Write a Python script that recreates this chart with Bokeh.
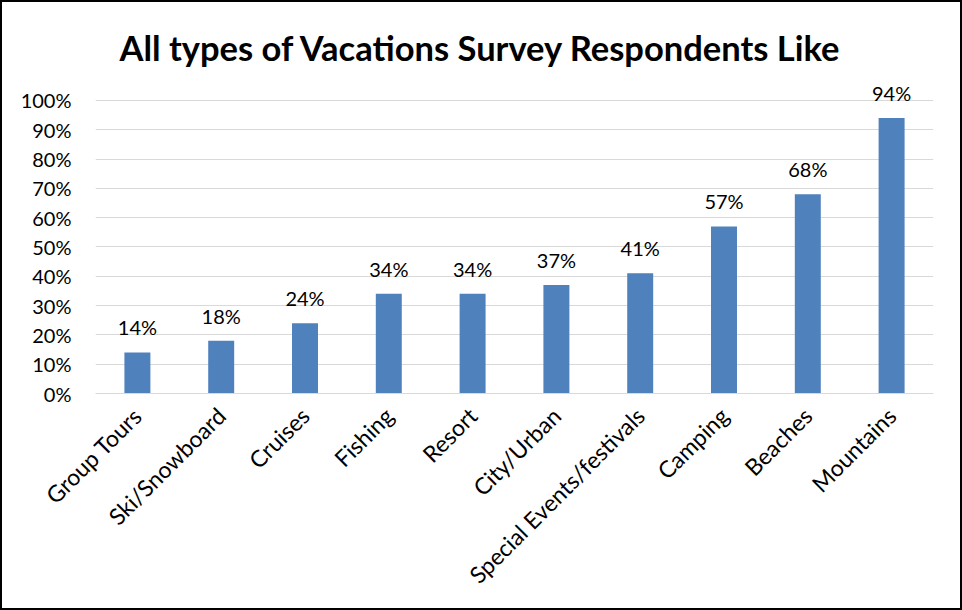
from bokeh.plotting import figure
from bokeh.models import ColumnDataSource, FixedTicker, NumeralTickFormatter, Range1d
from bokeh.core.properties import value
from bokeh.embed import file_html
from bokeh.resources import INLINE
import math

categories = ["Group Tours", "Ski/Snowboard", "Cruises", "Fishing", "Resort",
              "City/Urban", "Special Events/festivals", "Camping", "Beaches", "Mountains"]
percent_values = [14, 18, 24, 34, 34, 37, 41, 57, 68, 94]
y_ticks = [0, 0.1, 0.2, 0.3, 0.4, 0.5, 0.6, 0.7, 0.8, 0.9, 1.0]

FONT = "Lato"

src = ColumnDataSource(data=dict(
    cat=categories,
    val=[v / 100 for v in percent_values],
    lab=[f"{v}%" for v in percent_values],
))

p = figure(x_range=categories, y_range=Range1d(0, 1.068),
           width=962, height=610, output_backend="svg", toolbar_location=None,
           min_border_left=95, min_border_right=29, min_border_top=80, min_border_bottom=217,
           title="All types of Vacations Survey Respondents Like")
p.styles = {"box-shadow": "inset 0 0 0 2px #000000", "background-color": "#FFFFFF"}

p.title.align = "left"
p.title.offset = 24
p.title.text_font = FONT
p.title.text_font_size = "34.5px"
p.title.text_font_style = "bold"
p.title.text_color = "#000000"
p.title.standoff = 25

p.vbar(x="cat", top="val", width=0.31, source=src, fill_color="#4F81BD", line_color=None)
p.text(x="cat", y="val", text="lab", source=src, text_align="center", text_baseline="bottom",
       y_offset=-13, text_font=value(FONT), text_font_size="20px", text_color="#000000")

p.yaxis.ticker = FixedTicker(ticks=y_ticks)
p.yaxis.formatter = NumeralTickFormatter(format="0%")
p.yaxis.axis_line_color = None
p.yaxis.major_tick_line_color = None
p.yaxis.minor_tick_line_color = None
p.yaxis.major_label_text_font = FONT
p.yaxis.major_label_text_font_size = "20px"
p.yaxis.major_label_text_color = "#000000"
p.yaxis.major_label_standoff = 18

p.xaxis.axis_line_color = "#D9D9D9"
p.xaxis.major_tick_line_color = None
p.xaxis.minor_tick_line_color = None
p.xaxis.major_label_orientation = math.pi / 4
p.xaxis.major_label_text_font = FONT
p.xaxis.major_label_text_font_size = "23px"
p.xaxis.major_label_text_color = "#000000"
p.xaxis.major_label_standoff = 12

p.xgrid.grid_line_color = None
p.ygrid.grid_line_color = "#D9D9D9"
p.ygrid.grid_line_width = 1
p.outline_line_color = None
p.background_fill_color = "#FFFFFF"
p.border_fill_color = None

open("out.html", "w").write(file_html(p, INLINE))
